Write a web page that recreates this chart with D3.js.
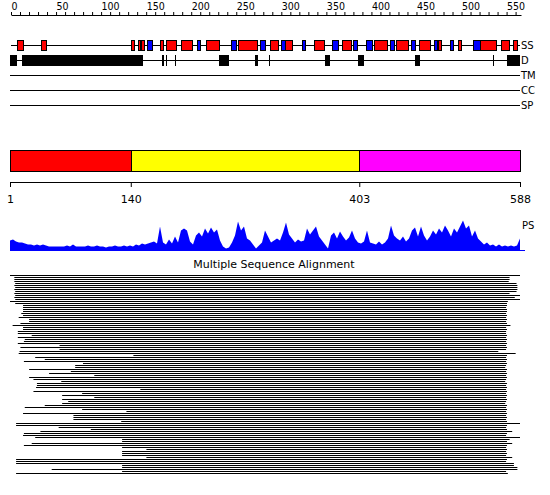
<!DOCTYPE html>
<html><head><meta charset="utf-8">
<script src="https://cdn.jsdelivr.net/npm/d3@7"></script>
<style>
body{margin:0;background:#fff}
svg{display:block}
text{font-family:"DejaVu Sans",Verdana,sans-serif;fill:#000}
</style>
</head><body>
<svg id="chart" width="550" height="495"></svg>
<script>
// ---------------- data ----------------
const seqLength = 588;
const rulerTicks = [0, 50, 100, 150, 200, 250, 300, 350, 400, 450, 500, 550];
const trackLabels = ["SS", "D", "TM", "CC", "SP"];
// secondary structure (residue ranges)
const helices = [[9,16],[37,42],[140,144],[148,151],[152,155],[174,177],[181,192],[198,210],[227,242],[263,285],[300,309],[317,326],[346,346],[351,362],[383,393],[420,435],[445,459],[472,484],[494,497],[517,520],[542,560],[566,575],[580,585]];
const strands = [[159,164],[216,220],[255,261],[289,295],[313,317],[337,341],[372,378],[396,400],[411,418],[438,443],[463,467],[489,493],[507,511],[534,542]];
// disordered regions
const disorder = [[1,9],[15,154],[176,178],[180,180],[191,191],[241,253],[283,286],[299,299],[363,369],[402,408],[467,473],[557,557],[573,588]];
// domain boundaries
const domainBounds = [1, 140, 403, 588];
const domainColors = ["#ff0000", "#ffff00", "#ff00ff"];
// PS profile (sampled along the sequence)
const psScores = [10,11,9,8,8,7,6,6,5,6,5,6,5,4,4,4,4,4,4,5,4,6,4,4,4,4,5,4,4,5,
  4,4,3,4,4,5,4,4,5,4,5,4,6,5,7,6,7,8,9,7,24,8,6,11,7,14,8,20,22,20,
  9,6,15,18,14,22,17,23,18,21,10,4,2,3,8,15,29,20,24,12,10,6,2,5,8,20,14,8,10,12,
  10,18,28,16,12,8,11,9,10,22,16,20,24,14,10,6,2,15,18,12,19,14,10,13,20,12,8,7,9,20,
  8,7,6,9,6,8,12,25,15,12,10,14,9,12,20,23,14,24,15,10,14,20,16,22,18,25,20,14,22,18,
  24,30,22,25,14,20,12,9,6,8,5,6,4,6,4,5,4,5,4,5,12];
// multiple sequence alignment: first and last aligned residue of each hit
const msaStart = [1,6,6,6,7,6,7,6,7,6,7,6,7,1,7,16,16,16,16,14,
  16,11,23,23,13,4,16,16,10,10,26,10,18,17,10,58,13,58,12,11,
  143,30,41,17,85,76,76,23,71,46,98,23,28,60,32,32,31,151,28,84,
  61,98,61,68,61,41,18,84,135,16,74,74,74,129,8,8,57,94,36,17,
  16,30,130,130,26,17,130,158,130,130,130,158,8,8,8,130,130,49,130,8];
const msaEnd = [588,576,576,575,584,585,585,585,584,576,588,582,588,574,573,573,572,573,573,572,
  573,572,573,572,573,577,572,573,572,572,573,572,573,572,573,572,573,572,563,583,
  573,572,573,572,573,572,571,573,572,573,572,573,572,571,573,572,573,572,573,572,
  573,572,573,572,571,573,572,573,572,573,572,573,572,573,588,573,572,573,579,573,
  572,588,576,573,579,573,572,573,572,573,572,579,573,572,581,581,585,585,572,574];

// ---------------- drawing ----------------
const svg = d3.select("#chart");
const x = d3.scaleLinear().domain([1, seqLength]).range([10, 520]);
const xr = d3.scaleLinear().domain([0, 566]).range([11, 521]);

// top ruler
const ruler = svg.append("g").attr("transform", "translate(0,15)");
ruler.call(d3.axisTop(xr).tickValues(d3.range(0, 561, 10)).tickSize(3).tickSizeOuter(0)
  .tickFormat(d => rulerTicks.includes(d) ? d : ""));
ruler.selectAll("text").attr("text-anchor", "start").attr("y", -5).attr("dy", 0)
  .style("font-family", "'Liberation Sans Narrow','DejaVu Sans Condensed',sans-serif").style("font-size", "10.5px");
ruler.select(".domain").attr("stroke", "#000");

// track baselines and labels
const trackY = [45, 60, 75, 90, 105];
trackLabels.forEach((lab, i) => {
  svg.append("line").attr("x1", i === 0 ? 11 : 10).attr("x2", 520)
    .attr("y1", trackY[i] + 0.5).attr("y2", trackY[i] + 0.5).attr("stroke", "#000");
  svg.append("text").attr("x", 521).attr("y", trackY[i] + 3.6)
    .style("font-size", "10px").text(lab);
});

// secondary structure
const ss = helices.map(d => ({s: d[0], e: d[1], c: "#ff0000"}))
  .concat(strands.map(d => ({s: d[0], e: d[1], c: "#0000ff"})));
svg.append("g").selectAll("rect").data(ss).join("rect")
  .attr("x", d => Math.round(x(d.s)) + 0.5)
  .attr("width", d => Math.max(0, Math.round(x(d.e)) - Math.round(x(d.s))))
  .attr("y", 40.5).attr("height", 10)
  .attr("fill", d => d.c).attr("stroke", "#000");

// disorder
svg.append("g").selectAll("rect").data(disorder).join("rect")
  .attr("x", d => Math.round(x(d[0])))
  .attr("width", d => Math.max(1, Math.round(x(d[1])) - Math.round(x(d[0]))))
  .attr("y", 55).attr("height", 11).attr("fill", "#000");

// domain bar
const doms = d3.range(domainBounds.length - 1).map(i => ({s: domainBounds[i], e: domainBounds[i + 1], c: domainColors[i]}));
svg.append("g").selectAll("rect").data(doms).join("rect")
  .attr("x", d => Math.round(x(d.s)) + 0.5).attr("width", d => Math.round(x(d.e)) - Math.round(x(d.s)))
  .attr("y", 150.5).attr("height", 21)
  .attr("fill", d => d.c).attr("stroke", "#000");
const dax = svg.append("g").attr("transform", "translate(0,182)");
dax.call(d3.axisBottom(x).tickValues(domainBounds).tickSize(5).tickSizeOuter(0).tickFormat(d3.format("d")));
dax.selectAll("text").attr("y", 13).style("font-size", "11px").style("font-family", "'DejaVu Sans',sans-serif");

// PS profile
const xi = d3.scaleLinear().domain([0, psScores.length - 1]).range([10, 520]);
const yp = d3.scaleLinear().domain([0, 30]).range([250.5, 220.5]);
svg.append("path").datum(psScores)
  .attr("d", d3.area().x((d, i) => xi(i)).y0(yp(0)).y1(d => yp(d)))
  .attr("fill", "#0000ff");
svg.append("line").attr("x1", 10).attr("x2", 525).attr("y1", 250.5).attr("y2", 250.5).attr("stroke", "#0000ff");
svg.append("text").attr("x", 522).attr("y", 229.3).style("font-size", "10px").text("PS");

// MSA
svg.append("text").attr("x", 274).attr("y", 267.5).attr("text-anchor", "middle")
  .style("font-size", "11px").text("Multiple Sequence Alignment");
const ym = d3.scaleLinear().domain([0, msaStart.length - 1]).range([275, 473]);
svg.append("g").selectAll("rect").data(msaStart).join("rect")
  .attr("x", (d) => x(d))
  .attr("width", (d, i) => x(msaEnd[i]) - x(d))
  .attr("y", (d, i) => ym(i)).attr("height", 1)
  .attr("fill", "#000");
</script>
</body></html>
